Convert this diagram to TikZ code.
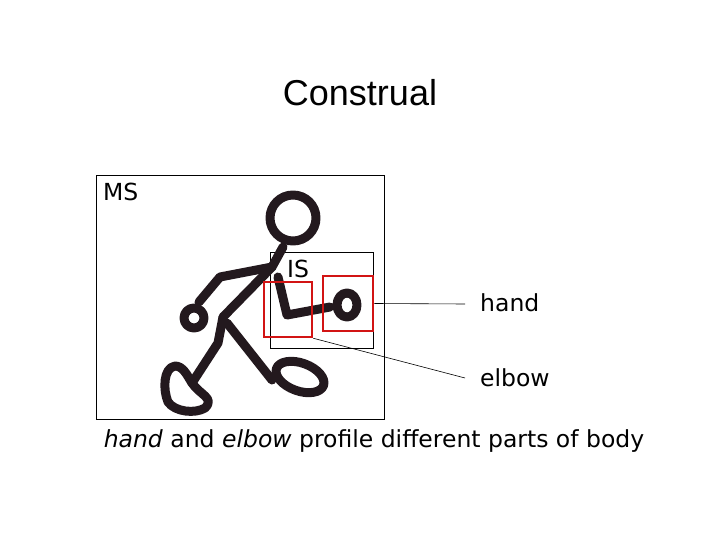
\documentclass[tikz,border=0pt]{standalone}
\usepackage{fontspec}
\setmainfont{DejaVu Sans}
\newfontfamily\arialf{Liberation Sans}
\begin{document}
\begin{tikzpicture}[x=1pt,y=-1pt,
  fig/.style={line width=9pt,line cap=round,line join=round,draw={rgb,255:red,35;green,25;blue,30}},
  redbox/.style={draw={rgb,255:red,210;green,20;blue,20},line width=2.5pt},
  lbl/.style={font=\fontsize{23.5}{26}\selectfont,inner sep=0pt}]
\useasboundingbox (0,0) rectangle (720,540);
\node[font=\arialf\fontsize{36}{40}\selectfont] (title) at (360,93) {Construal};
\node[draw,line width=0.8pt,minimum width=288pt,minimum height=244pt,inner sep=0pt] (ms) at (240,297) {};
\node[lbl,anchor=north west] (mst) at (103,183) {MS};
\node[draw,line width=0.6pt,minimum width=103pt,minimum height=96pt,inner sep=0pt] (is) at (321.5,300) {};
\node[lbl,anchor=north west] (ist) at (287,260) {IS};
% figure
\draw[fig] (293,218) circle (23);
\draw[fig] (283,247) -- (272,267) -- (223,317);
\draw[fig] (272,267) -- (220,277) -- (199,302);
\draw[fig] (194,318) circle (10);
\draw[fig] (278,277) -- (287,315) -- (330,307);
\draw[fig] (347,305) ellipse (10 and 12);
\draw[fig] (223,317) -- (218,343) -- (192,383);
\draw[fig] (192,383) .. controls (200,395) and (215,398) .. (205,408) .. controls (195,414) and (175,412) .. (168,402) .. controls (163,390) and (163,368) .. (175,366) .. controls (183,366) and (187,375) .. (192,383);
\draw[fig] (227,323) -- (272,380);
\draw[fig,rotate around={-20:(300,377)}] (300,377) ellipse (25 and 14);
\node[redbox,minimum width=48pt,minimum height=55pt,inner sep=0pt] (elbowbox) at (288,309.5) {};
\node[redbox,minimum width=50pt,minimum height=55pt,inner sep=0pt] (handbox) at (348,303.5) {};
\node[lbl,anchor=west] (hand) at (480,303) {hand};
\node[lbl,anchor=west] (elbow) at (480,378) {elbow};
\coordinate (he) at (465,304);
\coordinate (ee) at (465,378);
\draw[line width=0.6pt] (handbox.east) -- (he);
\draw[line width=0.6pt] (elbowbox.south east) -- (ee);
\node[lbl] (cap) at (374,441) {\textit{hand} and \textit{elbow} profile different parts of body};
\end{tikzpicture}
\end{document}
